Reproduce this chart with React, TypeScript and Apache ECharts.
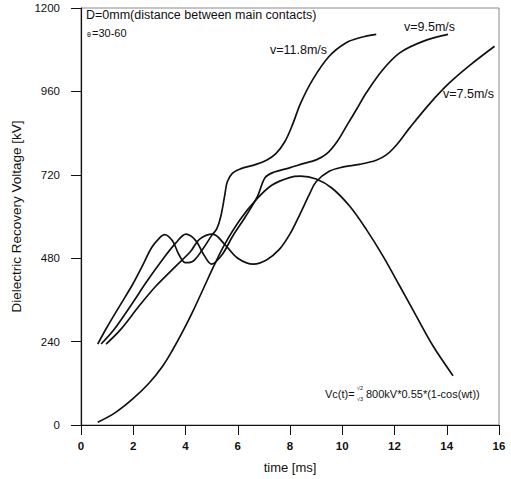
import React, { useEffect, useRef } from "react";
import * as echarts from "echarts";

// v = 11.8 m/s
const t118 = [0.64, 1.0, 1.5, 1.98, 2.35, 2.7, 3.0, 3.2, 3.5, 3.75, 4.0, 4.3, 4.65, 5.0, 5.2, 5.35, 5.5, 5.6, 5.8, 6.1, 6.7, 7.1, 7.45, 7.8, 8.1, 8.4, 8.87, 9.5, 10.15, 10.7, 11.3];
const v118 = [233, 282, 345, 405, 458, 510, 538, 548, 530, 490, 467, 472, 505, 545, 565, 600, 660, 700, 725, 737, 750, 762, 780, 815, 865, 925, 994, 1061, 1100, 1115, 1124];

// v = 9.5 m/s
const t95 = [0.77, 1.28, 1.98, 2.49, 3.13, 3.64, 4.02, 4.4, 4.7, 5.0, 5.4, 5.81, 6.3, 6.75, 7.05, 7.4, 7.98, 8.5, 9.0, 9.4, 9.8, 10.2, 10.6, 10.92, 11.56, 12.2, 13.09, 14.05];
const v95 = [233, 276, 352, 410, 477, 525, 549, 530, 490, 463, 490, 544, 600, 657, 712, 728, 740, 752, 763, 780, 815, 865, 915, 956, 1023, 1071, 1104, 1124];

// v = 7.5 m/s
const t75 = [0.96, 1.53, 2.23, 2.87, 3.64, 4.2, 4.53, 5.04, 5.5, 6.0, 6.6, 7.1, 7.6, 8.0, 8.37, 8.75, 9.0, 9.5, 10.0, 10.66, 11.3, 11.7, 12.1, 12.58, 13.35, 14.11, 14.88, 15.83];
const v75 = [233, 276, 343, 400, 458, 500, 534, 549, 520, 480, 463, 475, 506, 550, 605, 665, 700, 730, 742, 750, 762, 778, 808, 855, 925, 985, 1035, 1090];

// Vc(t)
const tVc = [0.64, 1.3, 1.98, 2.6, 3.13, 3.5, 3.9, 4.3, 4.7, 5.1, 5.5, 6.1, 6.7, 7.3, 7.98, 8.4, 9.0, 9.6, 10.28, 10.92, 11.56, 12.2, 12.83, 13.47, 14.24];
const vVc = [8, 35, 75, 120, 170, 215, 270, 330, 395, 460, 520, 592, 648, 690, 712, 716, 708, 682, 630, 563, 486, 400, 314, 228, 142];

const xTicks = { min: 0, max: 16, interval: 2 };
const yTicks = { min: 0, max: 1200, interval: 240 };

const FONT = "Liberation Sans, Arial, sans-serif";

const pairs = (t: number[], v: number[]) => t.map((x, i) => [x, v[i]]);

export default function App() {
  const ref = useRef<HTMLDivElement>(null);
  useEffect(() => {
    document.body.style.margin = "0";
    const chart = echarts.init(ref.current!, null, { renderer: "svg" });
    const lineSeries = (name: string, data: number[][]) => ({
      name,
      type: "line",
      data,
      smooth: 0.35,
      showSymbol: false,
      lineStyle: { color: "#111", width: 1.7 },
      itemStyle: { color: "#111" },
    });
    const txt = (text: string, x: number, y: number, size = 11, extra: any = {}) => ({
      type: "text",
      x,
      y,
      style: {
        text,
        fontFamily: FONT,
        fontSize: size,
        fill: "#111",
        textVerticalAlign: "middle",
        ...extra,
      },
    });
    chart.setOption({
      animation: false,
      backgroundColor: "#fff",
      grid: {
        left: 81,
        right: 12,
        top: 8,
        bottom: 53,
        show: true,
        borderColor: "#888",
        borderWidth: 1,
      },
      xAxis: {
        type: "value",
        ...xTicks,
        axisLine: { show: true, lineStyle: { color: "#111", width: 1.2 } },
        axisTick: { show: true, length: 10, lineStyle: { color: "#111" } },
        axisLabel: { margin: 15, fontFamily: FONT, fontSize: 11.5, fontWeight: "bold", color: "#111" },
        splitLine: { show: false },
        name: "time [ms]",
        nameLocation: "middle",
        nameGap: 36,
        nameTextStyle: { fontFamily: FONT, fontSize: 13, color: "#111" },
      },
      yAxis: {
        type: "value",
        ...yTicks,
        axisLine: { show: true, lineStyle: { color: "#111", width: 1.2 } },
        axisTick: { show: true, length: 10, lineStyle: { color: "#111" } },
        axisLabel: {
          margin: 21,
          fontFamily: FONT,
          fontSize: 11.5,
          color: "#111",
          formatter: (v: number) => String(v),
        },
        splitLine: { show: false },
        name: "Dielectric Recovery Voltage [kV]",
        nameLocation: "middle",
        nameGap: 52,
        nameTextStyle: { fontFamily: FONT, fontSize: 13.5, color: "#111" },
      },
      series: [
        lineSeries("v=11.8m/s", pairs(t118, v118)),
        lineSeries("v=9.5m/s", pairs(t95, v95)),
        lineSeries("v=7.5m/s", pairs(t75, v75)),
        lineSeries("Vc(t)", pairs(tVc, vVc)),
      ],
      graphic: [
        txt("D=0mm(distance between main contacts)", 86, 15, 12.5),
        txt("θ", 87, 34, 7),
        txt("=30-60", 92, 33, 11),
        txt("v=11.8m/s", 270, 50, 12.5),
        txt("v=9.5m/s", 404, 27, 12.5),
        txt("v=7.5m/s", 443, 94, 12.5),
        txt("Vc(t)=", 325, 394, 11),
        txt("√2", 357, 388, 5.5),
        txt("√3", 357, 399, 5.5),
        txt("800kV*0.55*(1-cos(wt))", 366, 394, 11),
      ],
    });
    return () => chart.dispose();
  }, []);
  return (
    <div
      ref={ref}
      style={{ position: "absolute", left: 0, top: 0, width: 511, height: 479, background: "#fff" }}
    />
  );
}
